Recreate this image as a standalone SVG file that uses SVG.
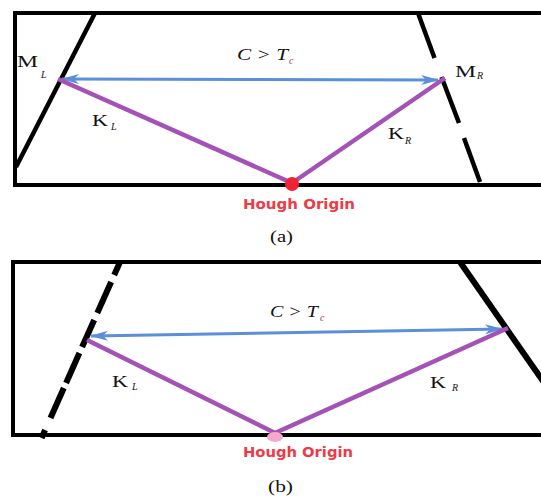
<svg xmlns="http://www.w3.org/2000/svg" width="541" height="498" viewBox="0 0 541 498">
<style>
.frame{fill:none;stroke:#000;stroke-width:4;stroke-linecap:square}
.lane{stroke:#000;stroke-width:4.5;stroke-linecap:butt}
.lane2{stroke:#000;stroke-width:6;stroke-linecap:butt}
.dist{stroke:#5b8fd9;stroke-width:3;fill:none}
.k{stroke:#a552b6;stroke-width:4.5;fill:none;stroke-linejoin:round}
.lbl{font-family:"Liberation Serif",serif;font-size:16px;fill:#141414}
.sub{font-family:"Liberation Serif",serif;font-style:italic;font-size:10px;fill:#141414}
.eq{font-family:"Liberation Serif",serif;font-style:italic;font-size:16px;fill:#141414}
.ho{font-family:"DejaVu Sans",Verdana,sans-serif;font-weight:bold;font-size:14px;fill:#f03a46}
.cap{font-family:"Liberation Serif",serif;font-size:16px;fill:#111}
</style>
<defs>
<marker id="ah" viewBox="0 0 18 10" refX="17" refY="5" markerWidth="18" markerHeight="10" markerUnits="userSpaceOnUse" orient="auto-start-reverse">
<path d="M0,0 L18,5 L0,10 L5,5 z" fill="#5b8fd9"/>
</marker>
</defs>
<rect width="541" height="498" fill="#fff"/>

<g id="panel-a">
<path class="frame" d="M545,13 H15 V185 H545"/>
<line class="lane" x1="95" y1="13" x2="16" y2="167"/>
<line class="lane" x1="418" y1="13" x2="434.5" y2="58"/>
<line class="lane" x1="441.5" y1="77" x2="459" y2="123"/>
<line class="lane" x1="464" y1="138" x2="480" y2="182"/>
</g>

<g id="panel-b">
<path class="frame" d="M545,262 H13 V435 H545"/>
<line class="lane2" x1="120" y1="262" x2="114.2" y2="275"/>
<line class="lane2" x1="111.1" y1="282" x2="97.3" y2="313"/>
<line class="lane2" x1="94.2" y1="320" x2="82.1" y2="347"/>
<line class="lane2" x1="79.4" y1="353" x2="66.1" y2="383"/>
<line class="lane2" x1="63.8" y1="388" x2="50.5" y2="418"/>
<line class="lane2" x1="45.1" y1="430" x2="41.6" y2="438"/>
<line class="lane2" x1="460" y1="262" x2="545" y2="384"/>
</g>

<g id="connectors">
<line class="dist" x1="62" y1="79" x2="438" y2="80" marker-start="url(#ah)" marker-end="url(#ah)"/>
<polyline class="k" points="58,79 292,183 445,78"/>
<line class="dist" x1="91" y1="336" x2="502" y2="329" marker-start="url(#ah)" marker-end="url(#ah)"/>
<polyline class="k" points="87,340 275,433 508,328"/>
</g>

<g id="origin-a">
<circle cx="292" cy="184" r="7" fill="#ee2333"/>
<text class="ho" x="243" y="209" textLength="112" lengthAdjust="spacingAndGlyphs">Hough Origin</text>
</g>
<g id="origin-b">
<ellipse cx="275" cy="437" rx="8" ry="5" fill="#f5a9cc"/>
<text class="ho" x="243" y="457" textLength="110" lengthAdjust="spacingAndGlyphs">Hough Origin</text>
</g>

<g id="labels-a">
<text class="lbl" x="17" y="67" textLength="21" lengthAdjust="spacingAndGlyphs">M</text><text class="sub" x="41" y="78">L</text>
<text class="lbl" x="92" y="126" textLength="16" lengthAdjust="spacingAndGlyphs">K</text><text class="sub" x="111" y="130">L</text>
<text class="lbl" x="388" y="139" textLength="16" lengthAdjust="spacingAndGlyphs">K</text><text class="sub" x="405" y="144">R</text>
<text class="lbl" x="455" y="77" textLength="21" lengthAdjust="spacingAndGlyphs">M</text><text class="sub" x="477" y="79">R</text>
<text class="eq" x="237" y="60" textLength="51" lengthAdjust="spacingAndGlyphs">C &gt; T</text><text class="sub" x="289" y="64" style="fill:#b03030">c</text>
<text class="cap" x="270" y="242" textLength="23" lengthAdjust="spacingAndGlyphs">(a)</text>
</g>

<g id="labels-b">
<text class="lbl" x="112" y="387" textLength="16" lengthAdjust="spacingAndGlyphs">K</text><text class="sub" x="132" y="390">L</text>
<text class="lbl" x="430" y="388" textLength="16" lengthAdjust="spacingAndGlyphs">K</text><text class="sub" x="452" y="391">R</text>
<text class="eq" x="270" y="317" textLength="48" lengthAdjust="spacingAndGlyphs">C &gt; T</text><text class="sub" x="320" y="321" style="fill:#b03030">c</text>
<text class="cap" x="268" y="492" textLength="25" lengthAdjust="spacingAndGlyphs">(b)</text>
</g>
</svg>
